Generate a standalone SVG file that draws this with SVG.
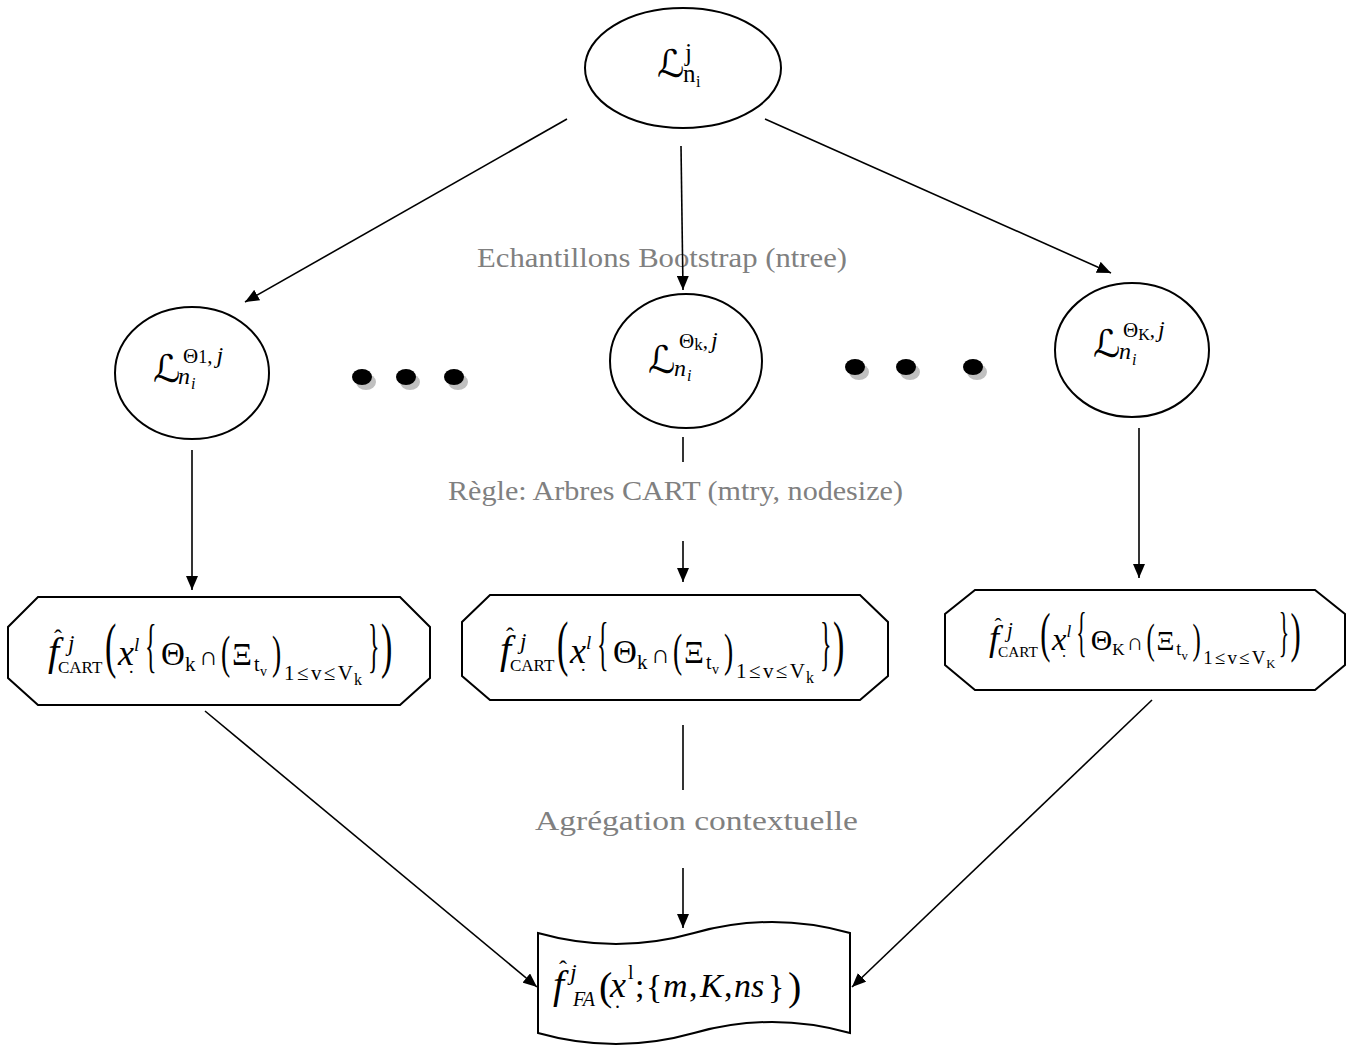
<svg xmlns="http://www.w3.org/2000/svg" width="1354" height="1047" viewBox="0 0 1354 1047">
  <defs>
    <style>
      .shape { fill: #ffffff; stroke: #000000; stroke-width: 2; }
      .conn { fill: none; stroke: #000000; stroke-width: 1.6; }
      .lbl { font-family: "Liberation Serif", "DejaVu Serif", serif; font-size: 28px; fill: #808080; }
      .m { font-family: "Liberation Serif", "DejaVu Serif", serif; fill: #000000; }
      .mi { font-family: "Liberation Serif", "DejaVu Serif", serif; font-style: italic; fill: #000000; }
      .scr { font-family: "DejaVu Serif", "DejaVu Sans", "Noto Sans", serif; font-style: italic; fill: #000000; }
      .dot { fill: #000000; }
      .shadow { fill: #c0c0c0; }
    </style>
    <marker id="arrow" viewBox="0 0 14 12" refX="14" refY="6" markerWidth="14" markerHeight="12" orient="auto" markerUnits="userSpaceOnUse">
      <path d="M0,0 L14,6 L0,12 z" fill="#000000"/>
    </marker>
  </defs>

  <rect width="1354" height="1047" fill="#ffffff"/>

  <!-- edge labels -->
  <g id="labels">
    <text class="lbl" x="477" y="267" textLength="370" lengthAdjust="spacingAndGlyphs">Echantillons Bootstrap (ntree)</text>
    <text class="lbl" x="448" y="500" textLength="455" lengthAdjust="spacingAndGlyphs">Règle: Arbres CART (mtry, nodesize)</text>
    <text class="lbl" x="535" y="830" textLength="323" lengthAdjust="spacingAndGlyphs">Agrégation contextuelle</text>
  </g>

  <!-- connectors -->
  <g id="connectors">
    <path class="conn" d="M567,119 L245,302" marker-end="url(#arrow)"/>
    <path class="conn" d="M681,146 L683,290" marker-end="url(#arrow)"/>
    <path class="conn" d="M765,119 L1111,273" marker-end="url(#arrow)"/>
    <path class="conn" d="M192,450 L192,590" marker-end="url(#arrow)"/>
    <path class="conn" d="M683,437 L683,462"/>
    <path class="conn" d="M683,541 L683,582" marker-end="url(#arrow)"/>
    <path class="conn" d="M1139,428 L1139,578" marker-end="url(#arrow)"/>
    <path class="conn" d="M205,711 L537,987" marker-end="url(#arrow)"/>
    <path class="conn" d="M683,725 L683,790"/>
    <path class="conn" d="M683,868 L683,928" marker-end="url(#arrow)"/>
    <path class="conn" d="M1152,700 L852,987" marker-end="url(#arrow)"/>
  </g>

  <!-- root sample -->
  <g id="node-root">
    <ellipse class="shape" cx="683" cy="68" rx="98" ry="60"/>
    <text class="scr" x="657" y="77" font-size="38">ℒ</text>
    <text class="m" x="685" y="61" font-size="25">j</text>
    <text class="m" x="683" y="82" font-size="25">n</text>
    <text class="m" x="696" y="87" font-size="16">i</text>
  </g>

  <!-- bootstrap samples -->
  <g id="node-sample-1">
    <ellipse class="shape" cx="192" cy="373" rx="77" ry="66"/>
    <text class="scr" x="153" y="382" font-size="38">ℒ</text>
    <text class="m" x="183" y="363" font-size="21">Θ<tspan font-size="18">1</tspan>,<tspan class="mi" dx="4" font-size="24">j</tspan></text>
    <text class="mi" x="178" y="384" font-size="24">n</text>
    <text class="mi" x="191" y="389" font-size="16">i</text>
  </g>

  <g id="node-sample-k">
    <ellipse class="shape" cx="686" cy="361" rx="76" ry="67"/>
    <text class="scr" x="648" y="373" font-size="38">ℒ</text>
    <text class="m" x="679" y="348" font-size="21">Θ<tspan font-size="17" dy="2">k</tspan><tspan dy="-2">,</tspan><tspan class="mi" dx="3" font-size="24">j</tspan></text>
    <text class="mi" x="674" y="376" font-size="24">n</text>
    <text class="mi" x="687" y="381" font-size="16">i</text>
  </g>

  <g id="node-sample-K">
    <ellipse class="shape" cx="1132" cy="350" rx="77" ry="67"/>
    <text class="scr" x="1093" y="357" font-size="38">ℒ</text>
    <text class="m" x="1123" y="337" font-size="21">Θ<tspan font-size="16" dy="3">K</tspan><tspan dy="-3">,</tspan><tspan class="mi" dx="3" font-size="24">j</tspan></text>
    <text class="mi" x="1119" y="359" font-size="24">n</text>
    <text class="mi" x="1132" y="365" font-size="16">i</text>
  </g>

  <!-- ellipsis dots with drop shadows -->
  <g id="dots-left">
    <ellipse class="shadow" cx="366" cy="382" rx="10" ry="8"/>
    <ellipse class="shadow" cx="410" cy="382" rx="10" ry="8"/>
    <ellipse class="shadow" cx="458" cy="382" rx="10" ry="8"/>
    <ellipse class="dot" cx="362" cy="377" rx="10" ry="8"/>
    <ellipse class="dot" cx="406" cy="377" rx="10" ry="8"/>
    <ellipse class="dot" cx="454" cy="377" rx="10" ry="8"/>
  </g>
  <g id="dots-right">
    <ellipse class="shadow" cx="859" cy="372" rx="10" ry="8"/>
    <ellipse class="shadow" cx="910" cy="372" rx="10" ry="8"/>
    <ellipse class="shadow" cx="977" cy="372" rx="10" ry="8"/>
    <ellipse class="dot" cx="855" cy="367" rx="10" ry="8"/>
    <ellipse class="dot" cx="906" cy="367" rx="10" ry="8"/>
    <ellipse class="dot" cx="973" cy="367" rx="10" ry="8"/>
  </g>

  <!-- CART trees -->
  <g id="node-cart-1">
    <polygon class="shape" points="38,597 400,597 430,627 430,678 400,705 38,705 8,678 8,627"/>
    <g transform="translate(48,665)">
      <text class="mi" x="0" y="0" font-size="40">f</text>
      <text class="m" x="6" y="-19" font-size="24">ˆ</text>
      <text class="mi" x="20" y="-14" font-size="23">j</text>
      <text class="m" x="10" y="8" font-size="17">CART</text>
      <text class="m" font-size="62" transform="translate(57,1) scale(0.55,1)">(</text>
      <text class="mi" x="70" y="0" font-size="36">x</text>
      <text class="mi" x="86" y="-14" font-size="19">l</text>
      <text class="m" x="81" y="8" font-size="18">.</text>
      <text class="m" font-size="60" transform="translate(97,0) scale(0.4,1)">{</text>
      <text class="m" x="113" y="0" font-size="33">Θ</text>
      <text class="m" x="137" y="6" font-size="21">k</text>
      <text class="m" x="151" y="0" font-size="26">∩</text>
      <text class="m" font-size="46" transform="translate(173,3) scale(0.6,1)">(</text>
      <text class="m" x="184" y="0" font-size="31">Ξ</text>
      <text class="m" x="206" y="6" font-size="20">t</text>
      <text class="m" x="212" y="11" font-size="14">v</text>
      <text class="m" font-size="46" transform="translate(224,3) scale(0.6,1)">)</text>
      <text class="m" x="236" y="15" font-size="21" textLength="69">1≤v≤V</text>
      <text class="m" x="306" y="20" font-size="16">k</text>
      <text class="m" font-size="60" transform="translate(320,0) scale(0.4,1)">}</text>
      <text class="m" font-size="62" transform="translate(333,1) scale(0.55,1)">)</text>
    </g>
  </g>

  <g id="node-cart-k">
    <polygon class="shape" points="490,595 860,595 888,622 888,676 860,700 490,700 462,676 462,622"/>
    <g transform="translate(500,663)">
      <text class="mi" x="0" y="0" font-size="40">f</text>
      <text class="m" x="6" y="-19" font-size="24">ˆ</text>
      <text class="mi" x="20" y="-14" font-size="23">j</text>
      <text class="m" x="10" y="8" font-size="17">CART</text>
      <text class="m" font-size="62" transform="translate(57,1) scale(0.55,1)">(</text>
      <text class="mi" x="70" y="0" font-size="36">x</text>
      <text class="mi" x="86" y="-14" font-size="19">l</text>
      <text class="m" x="81" y="8" font-size="18">.</text>
      <text class="m" font-size="60" transform="translate(97,0) scale(0.4,1)">{</text>
      <text class="m" x="113" y="0" font-size="33">Θ</text>
      <text class="m" x="137" y="6" font-size="21">k</text>
      <text class="m" x="151" y="0" font-size="26">∩</text>
      <text class="m" font-size="46" transform="translate(173,3) scale(0.6,1)">(</text>
      <text class="m" x="184" y="0" font-size="31">Ξ</text>
      <text class="m" x="206" y="6" font-size="20">t</text>
      <text class="m" x="212" y="11" font-size="14">v</text>
      <text class="m" font-size="46" transform="translate(224,3) scale(0.6,1)">)</text>
      <text class="m" x="236" y="15" font-size="21" textLength="69">1≤v≤V</text>
      <text class="m" x="306" y="20" font-size="16">k</text>
      <text class="m" font-size="60" transform="translate(320,0) scale(0.4,1)">}</text>
      <text class="m" font-size="62" transform="translate(333,1) scale(0.55,1)">)</text>
    </g>
  </g>

  <g id="node-cart-K">
    <polygon class="shape" points="975,590 1315,590 1345,614 1345,665 1315,690 975,690 945,665 945,614"/>
    <g transform="translate(989,650) scale(0.9)">
      <text class="mi" x="0" y="0" font-size="40">f</text>
      <text class="m" x="6" y="-19" font-size="24">ˆ</text>
      <text class="mi" x="20" y="-14" font-size="23">j</text>
      <text class="m" x="10" y="8" font-size="17">CART</text>
      <text class="m" font-size="62" transform="translate(57,1) scale(0.55,1)">(</text>
      <text class="mi" x="70" y="0" font-size="36">x</text>
      <text class="mi" x="86" y="-14" font-size="19">l</text>
      <text class="m" x="81" y="8" font-size="18">.</text>
      <text class="m" font-size="60" transform="translate(97,0) scale(0.4,1)">{</text>
      <text class="m" x="113" y="0" font-size="33">Θ</text>
      <text class="m" x="137" y="6" font-size="19">K</text>
      <text class="m" x="153" y="0" font-size="26">∩</text>
      <text class="m" font-size="46" transform="translate(175,3) scale(0.6,1)">(</text>
      <text class="m" x="186" y="0" font-size="31">Ξ</text>
      <text class="m" x="208" y="6" font-size="20">t</text>
      <text class="m" x="214" y="11" font-size="14">v</text>
      <text class="m" font-size="46" transform="translate(226,3) scale(0.6,1)">)</text>
      <text class="m" x="238" y="15" font-size="21" textLength="69">1≤v≤V</text>
      <text class="m" x="308" y="20" font-size="14">K</text>
      <text class="m" font-size="60" transform="translate(322,0) scale(0.4,1)">}</text>
      <text class="m" font-size="62" transform="translate(335,1) scale(0.55,1)">)</text>
    </g>
  </g>

  <!-- aggregated forest -->
  <g id="node-forest">
    <path class="shape" d="M538,933 Q616,955 694,933 Q772,911 850,933 L850,1033 Q772,1011 694,1033 Q616,1055 538,1033 Z"/>
    <text class="mi" x="553" y="998" font-size="40">f</text>
    <text class="m" x="559" y="977" font-size="24">ˆ</text>
    <text class="mi" x="570" y="980" font-size="24">j</text>
    <text class="mi" x="573" y="1006" font-size="20">FA</text>
    <text class="m" x="599" y="1000" font-size="40">(</text>
    <text class="mi" x="610" y="997" font-size="36">x</text>
    <text class="m" x="628" y="979" font-size="20">l</text>
    <text class="m" x="615" y="1008" font-size="20">.</text>
    <text class="m" x="635" y="997" font-size="34">;</text>
    <text class="m" x="646" y="998" font-size="34">{</text>
    <text class="mi" x="663" y="997" font-size="34">m</text>
    <text class="m" x="689" y="997" font-size="34">,</text>
    <text class="mi" x="700" y="997" font-size="34">K</text>
    <text class="m" x="724" y="997" font-size="34">,</text>
    <text class="mi" x="734" y="997" font-size="34">ns</text>
    <text class="m" x="768" y="998" font-size="34">}</text>
    <text class="m" x="788" y="1000" font-size="40">)</text>
  </g>
</svg>
